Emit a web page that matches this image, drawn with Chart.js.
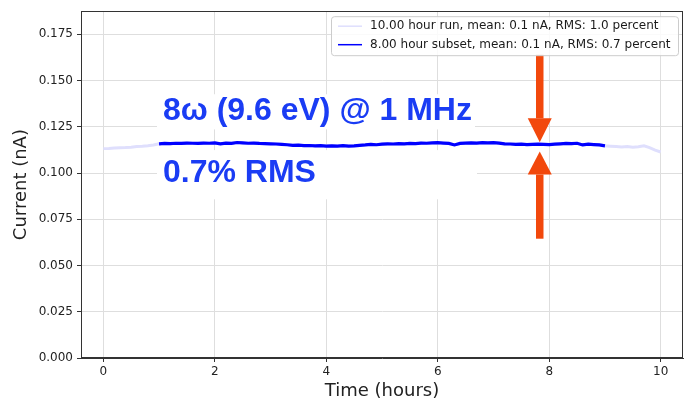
<!DOCTYPE html>
<html>
<head>
<meta charset="utf-8">
<script src="https://cdn.jsdelivr.net/npm/chart.js@4"></script>
<style>
  html, body { margin: 0; padding: 0; background: #fff; }
</style>
</head>
<body>
<canvas id="currentChart" width="691" height="402"></canvas>
<script>
// tempo (horas) e corrente medida (nA)
var hours = [
  0.0, 0.1, 0.2, 0.3, 0.4, 0.5, 0.6, 0.7, 0.8, 0.9,
  1.0, 1.1, 1.2, 1.3, 1.4, 1.5, 1.6, 1.7, 1.8, 1.9,
  2.0, 2.1, 2.2, 2.3, 2.4, 2.5, 2.6, 2.7, 2.8, 2.9,
  3.0, 3.1, 3.2, 3.3, 3.4, 3.5, 3.6, 3.7, 3.8, 3.9,
  4.0, 4.1, 4.2, 4.3, 4.4, 4.5, 4.6, 4.7, 4.8, 4.9,
  5.0, 5.1, 5.2, 5.3, 5.4, 5.5, 5.6, 5.7, 5.8, 5.9,
  6.0, 6.1, 6.2, 6.3, 6.4, 6.5, 6.6, 6.7, 6.8, 6.9,
  7.0, 7.1, 7.2, 7.3, 7.4, 7.5, 7.6, 7.7, 7.8, 7.9,
  8.0, 8.1, 8.2, 8.3, 8.4, 8.5, 8.6, 8.7, 8.8, 8.9,
  9.0, 9.1, 9.2, 9.3, 9.4, 9.5, 9.6, 9.7, 9.8, 9.9,
  10.0
];

var runCurrent = [
  0.1132, 0.1133, 0.1135, 0.1137, 0.1138, 0.1140, 0.1143, 0.1145, 0.1148, 0.1152,
  0.1158, 0.1160, 0.1159, 0.1161, 0.1160, 0.1162, 0.1161, 0.1160, 0.1162, 0.1161,
  0.1163, 0.1158, 0.1162, 0.1160, 0.1165, 0.1163, 0.1161, 0.1162, 0.1160, 0.1159,
  0.1158, 0.1157, 0.1155, 0.1153, 0.1150, 0.1151, 0.1148, 0.1149, 0.1147, 0.1148,
  0.1146, 0.1147, 0.1146, 0.1148, 0.1146, 0.1147, 0.1150, 0.1152, 0.1155, 0.1153,
  0.1156, 0.1158, 0.1157, 0.1159, 0.1158, 0.1160, 0.1159, 0.1162, 0.1161, 0.1163,
  0.1164, 0.1162, 0.1160, 0.1152, 0.1160, 0.1162, 0.1163, 0.1162, 0.1164, 0.1163,
  0.1164, 0.1162, 0.1158, 0.1157, 0.1155, 0.1156, 0.1154, 0.1155, 0.1156, 0.1155,
  0.1154, 0.1156, 0.1158, 0.1160, 0.1159, 0.1161, 0.1152, 0.1156, 0.1154, 0.1152,
  0.1147, 0.1145, 0.1143, 0.1141, 0.1143, 0.1140, 0.1142, 0.1147, 0.1137, 0.1124,
  0.1114
];

// subconjunto de 8 horas (1 h a 9 h)
var subsetHours = hours.slice(10, 91);
var subsetCurrent = runCurrent.slice(10, 91);

var xTicks = [0, 2, 4, 6, 8, 10];
var yTicks = [0, 0.025, 0.05, 0.075, 0.1, 0.125, 0.15, 0.175];

var runLabel = '10.00 hour run, mean: 0.1 nA, RMS: 1.0 percent';
var subsetLabel = '8.00 hour subset, mean: 0.1 nA, RMS: 0.7 percent';
var titleLine = '8\u03C9 (9.6 eV) @ 1 MHz';
var rmsLine = '0.7% RMS';

function toPoints(xs, ys) {
  return xs.map(function (x, i) { return { x: x, y: ys[i] }; });
}

var runColor = '#dfdffd';
var subsetColor = '#0000ff';
var noteColor = '#1a3cf4';
var arrowColor = '#f2480c';

// moldura, anotações e legenda desenhadas por cima
var overlayPlugin = {
  id: 'overlay',
  afterDraw: function (chart) {
    var ctx = chart.ctx;
    var a = chart.chartArea;
    var x = chart.scales.x;
    var y = chart.scales.y;
    ctx.save();

    // caixas brancas atrás dos textos
    ctx.fillStyle = '#ffffff';
    ctx.fillRect(157, y.getPixelForValue(0.1426), 318, y.getPixelForValue(0.1236) - y.getPixelForValue(0.1426));
    ctx.fillRect(157, y.getPixelForValue(0.1124), 320, y.getPixelForValue(0.0858) - y.getPixelForValue(0.1124));

    ctx.fillStyle = noteColor;
    ctx.font = 'bold 32px "Liberation Sans", Arial, sans-serif';
    ctx.textBaseline = 'alphabetic';
    ctx.textAlign = 'left';
    ctx.fillText(titleLine, x.getPixelForValue(1.07), y.getPixelForValue(0.1288));
    ctx.fillText(rmsLine, x.getPixelForValue(1.07), y.getPixelForValue(0.0950));

    // setas
    function arrow(xv, tailV, baseV, tipV) {
      var cx = x.getPixelForValue(xv);
      var tail = y.getPixelForValue(tailV);
      var base = y.getPixelForValue(baseV);
      var tip = y.getPixelForValue(tipV);
      ctx.fillStyle = arrowColor;
      ctx.fillRect(cx - 3.75, Math.min(tail, base), 7.5, Math.abs(base - tail));
      ctx.beginPath();
      ctx.moveTo(cx - 12, base);
      ctx.lineTo(cx + 12, base);
      ctx.lineTo(cx, tip);
      ctx.closePath();
      ctx.fill();
    }
    arrow(7.83, 0.1640, 0.1296, 0.1166);
    arrow(7.83, 0.0645, 0.0992, 0.1117);

    // moldura
    ctx.strokeStyle = '#333333';
    ctx.lineWidth = 1;
    ctx.strokeRect(Math.round(a.left) + 0.5, Math.round(a.top) + 0.5,
      Math.round(a.right - a.left) - 1, Math.round(a.bottom - a.top) - 1);

    // legenda
    var bx = a.right - 352, by = a.top + 5, bw = 347, bh = 39;
    ctx.fillStyle = 'rgba(255,255,255,0.85)';
    ctx.strokeStyle = '#cccccc';
    ctx.beginPath();
    ctx.roundRect(bx + 0.5, by + 0.5, bw, bh, 3);
    ctx.fill();
    ctx.stroke();
    var rows = [[runColor, runLabel], [subsetColor, subsetLabel]];
    ctx.font = '12px "DejaVu Sans", sans-serif';
    ctx.textBaseline = 'middle';
    rows.forEach(function (r, i) {
      var ry = by + 10 + i * 18.5;
      ctx.strokeStyle = r[0];
      ctx.lineWidth = 1.5;
      ctx.beginPath();
      ctx.moveTo(bx + 7, ry);
      ctx.lineTo(bx + 31, ry);
      ctx.stroke();
      ctx.fillStyle = '#1a1a1a';
      ctx.fillText(r[1], bx + 39, ry);
    });

    ctx.restore();
  }
};

var currentChart = new Chart(document.getElementById('currentChart'), {
  type: 'line',
  data: {
    datasets: [{
      label: runLabel,
      data: toPoints(hours, runCurrent),
      borderColor: runColor,
      borderWidth: 3,
      pointRadius: 0,
      tension: 0,
      order: 2
    }, {
      label: subsetLabel,
      data: toPoints(subsetHours, subsetCurrent),
      borderColor: subsetColor,
      borderWidth: 3.2,
      pointRadius: 0,
      tension: 0,
      order: 1
    }]
  },
  options: {
    responsive: false,
    animation: false,
    layout: { padding: { top: 11, right: 8, left: 0, bottom: 0 } },
    plugins: {
      legend: { display: false },
      tooltip: { enabled: false }
    },
    scales: {
      x: {
        type: 'linear',
        min: -0.4,
        max: 10.4,
        afterBuildTicks: function (s) { s.ticks = xTicks.map(function (v) { return { value: v }; }); },
        afterFit: function (s) { s.height = 44; },
        grid: { color: '#dedede', tickColor: '#333333', tickLength: 4 },
        border: { color: '#333333' },
        ticks: {
          color: '#222222',
          padding: 3,
          maxRotation: 0,
          font: { family: 'DejaVu Sans', size: 12 },
          callback: function (v) { return String(v); }
        },
        title: {
          display: true,
          text: 'Time (hours)',
          color: '#222222',
          padding: { top: 0, bottom: 0 },
          font: { family: 'DejaVu Sans', size: 18 }
        }
      },
      y: {
        min: 0,
        max: 0.1875,
        afterBuildTicks: function (s) { s.ticks = yTicks.map(function (v) { return { value: v }; }); },
        afterFit: function (s) { s.width = 81; },
        grid: { color: '#dedede', tickColor: '#333333', tickLength: 4 },
        border: { color: '#333333' },
        ticks: {
          color: '#222222',
          padding: 4,
          font: { family: 'DejaVu Sans', size: 12 },
          callback: function (v) { return Number(v).toFixed(3); }
        },
        title: {
          display: true,
          text: 'Current (nA)',
          color: '#222222',
          padding: { top: 11, bottom: 0 },
          font: { family: 'DejaVu Sans', size: 18 }
        }
      }
    }
  },
  plugins: [overlayPlugin]
});
</script>
</body>
</html>
